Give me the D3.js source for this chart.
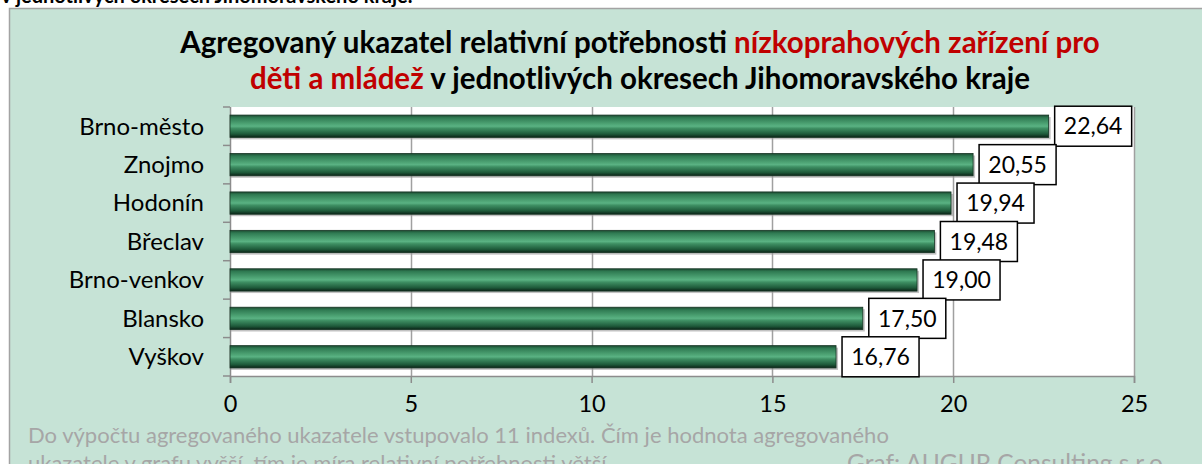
<!DOCTYPE html>
<html>
<head>
  <meta charset="utf-8">
  <title>Agregovaný ukazatel relativní potřebnosti</title>
  <script src="https://d3js.org/d3.v7.min.js"></script>
  <style>
    body { margin: 0; background: #ffffff; }
    svg text { font-family: Lato, "Open Sans", sans-serif; }
  </style>
</head>
<body>
  <div id="chart"></div>
  <script>
    // data
    var districts = ["Brno-město", "Znojmo", "Hodonín", "Břeclav", "Brno-venkov", "Blansko", "Vyškov"];
    var values = [22.64, 20.55, 19.94, 19.48, 19.00, 17.50, 16.76];
    var xTicks = [0, 5, 10, 15, 20, 25];

    var width = 1202, height = 464;
    var plot = { left: 230, right: 1134, top: 107, bottom: 376 };

    var svg = d3.select("#chart").append("svg")
      .attr("width", width)
      .attr("height", height);

    var defs = svg.append("defs");
    var grad = defs.append("linearGradient")
      .attr("id", "barGrad")
      .attr("x1", 0).attr("y1", 0).attr("x2", 0).attr("y2", 1);
    [["0%", "#1c4a31"], ["12%", "#2f7a52"], ["40%", "#4ea475"], ["50%", "#5ab283"],
     ["60%", "#3e8f63"], ["85%", "#1e5a3a"], ["100%", "#0b2417"]].forEach(function(s) {
      grad.append("stop").attr("offset", s[0]).attr("stop-color", s[1]);
    });

    // cropped text of the page above the chart
    svg.append("text")
      .attr("x", 1).attr("y", 3)
      .style("font-weight", "bold")
      .style("font-size", "20px")
      .attr("fill", "#000")
      .text("v jednotlivých okresech Jihomoravského kraje.");

    // chart frame
    svg.append("rect")
      .attr("x", 9.5).attr("y", 8.5)
      .attr("width", 1200).attr("height", 470)
      .attr("fill", "#c6e3d6")
      .attr("stroke", "#a3a3a3")
      .attr("stroke-width", 1.5);

    // title
    var title = svg.append("text")
      .attr("text-anchor", "middle")
      .style("font-weight", "bold")
      .style("font-size", "29.5px");
    var t1 = title.append("tspan").attr("x", 640).attr("y", 53);
    t1.append("tspan").attr("fill", "#000").text("Agregovaný ukazatel relativní potřebnosti ");
    t1.append("tspan").attr("fill", "#c00000").text("nízkoprahových zařízení pro");
    var t2 = title.append("tspan").attr("x", 640).attr("y", 89);
    t2.append("tspan").attr("fill", "#c00000").text("děti a mládež");
    t2.append("tspan").attr("fill", "#000").text(" v jednotlivých okresech Jihomoravského kraje");

    var x = d3.scaleLinear().domain([0, 25]).range([plot.left, plot.right]);
    var y = d3.scaleBand().domain(districts).range([plot.top, plot.bottom]).paddingInner(0.42).paddingOuter(0.21);
    var yBand = d3.scaleBand().domain(districts).range([plot.top, plot.bottom]);

    // plot area
    svg.append("rect")
      .attr("x", plot.left).attr("y", plot.top)
      .attr("width", plot.right - plot.left).attr("height", plot.bottom - plot.top)
      .attr("fill", "#ffffff");

    // grid lines
    svg.append("g").selectAll("line")
      .data(xTicks.slice(1))
      .enter().append("line")
      .attr("x1", function(d) { return Math.round(x(d)) + 0.5; })
      .attr("x2", function(d) { return Math.round(x(d)) + 0.5; })
      .attr("y1", plot.top).attr("y2", plot.bottom)
      .attr("stroke", "#a0a0a0")
      .attr("stroke-width", 1.5);

    // x axis
    var xAxis = svg.append("g")
      .attr("transform", "translate(0," + plot.bottom + ")")
      .call(d3.axisBottom(x).tickValues(xTicks).tickSize(7).tickPadding(12));
    xAxis.select(".domain").attr("stroke", "#8c8c8c").attr("stroke-width", 1.5);
    xAxis.selectAll(".tick line").attr("stroke", "#8c8c8c").attr("stroke-width", 1.5);
    xAxis.selectAll(".tick text")
      .style("font-size", "23.5px")
      .attr("fill", "#000")
      .text(function(d) { return d; });

    // y axis: tick marks at category boundaries
    var yAxisG = svg.append("g");
    yAxisG.append("line")
      .attr("x1", plot.left + 0.5).attr("x2", plot.left + 0.5)
      .attr("y1", plot.top).attr("y2", plot.bottom)
      .attr("stroke", "#8c8c8c").attr("stroke-width", 1.5);
    yAxisG.selectAll("line.tk")
      .data(districts.concat(["_end"]))
      .enter().append("line")
      .attr("class", "tk")
      .attr("x1", plot.left - 7).attr("x2", plot.left)
      .attr("y1", function(d, i) { return i < districts.length ? yBand(d) : plot.bottom; })
      .attr("y2", function(d, i) { return i < districts.length ? yBand(d) : plot.bottom; })
      .attr("stroke", "#8c8c8c").attr("stroke-width", 1.5);

    yAxisG.selectAll("text")
      .data(districts)
      .enter().append("text")
      .attr("x", 204)
      .attr("y", function(d) { return yBand(d) + yBand.bandwidth() / 2; })
      .attr("dy", "0.35em")
      .attr("text-anchor", "end")
      .style("font-size", "24px")
      .attr("fill", "#000")
      .text(function(d) { return d; });

    // bar shadows
    svg.append("g").selectAll("rect")
      .data(values)
      .enter().append("rect")
      .attr("x", plot.left + 1)
      .attr("y", function(d, i) { return y(districts[i]) + 2; })
      .attr("width", function(d) { return x(d) - plot.left + 1; })
      .attr("height", y.bandwidth())
      .attr("fill", "#9a9a9a")
      .attr("opacity", 0.6);

    // bars
    svg.append("g").selectAll("rect")
      .data(values)
      .enter().append("rect")
      .attr("x", plot.left)
      .attr("y", function(d, i) { return y(districts[i]); })
      .attr("width", function(d) { return x(d) - plot.left; })
      .attr("height", y.bandwidth())
      .attr("fill", "url(#barGrad)")
      .attr("stroke", "#143322")
      .attr("stroke-width", 0.8);

    // value labels in boxes
    var fmt = function(v) { return d3.format(".2f")(v).replace(".", ","); };
    var labels = svg.append("g").selectAll("g")
      .data(values)
      .enter().append("g")
      .attr("transform", function(d, i) {
        return "translate(" + (x(d) + 6) + "," + (yBand(districts[i]) + yBand.bandwidth() / 2) + ")";
      });
    labels.append("rect")
      .attr("x", 0).attr("y", -20)
      .attr("width", 77).attr("height", 40)
      .attr("fill", "#ffffff")
      .attr("stroke", "#000")
      .attr("stroke-width", 1.5);
    labels.append("text")
      .attr("x", 38.5).attr("y", 0)
      .attr("dy", "0.36em")
      .attr("text-anchor", "middle")
      .style("font-size", "23px")
      .attr("fill", "#000")
      .text(function(d) { return fmt(d); });

    // footnote
    var note = svg.append("text")
      .style("font-size", "22px")
      .attr("fill", "#a6a6a6");
    note.append("tspan").attr("x", 28).attr("y", 443)
      .text("Do výpočtu agregovaného ukazatele vstupovalo 11 indexů. Čím je hodnota agregovaného");
    note.append("tspan").attr("x", 28).attr("y", 471)
      .text("ukazatele v grafu vyšší, tím je míra relativní potřebnosti větší.");

    svg.append("text")
      .attr("x", 847).attr("y", 472)
      .style("font-size", "24.5px")
      .attr("fill", "#a6a6a6")
      .text("Graf: AUGUR Consulting s.r.o.");
  </script>
</body>
</html>
